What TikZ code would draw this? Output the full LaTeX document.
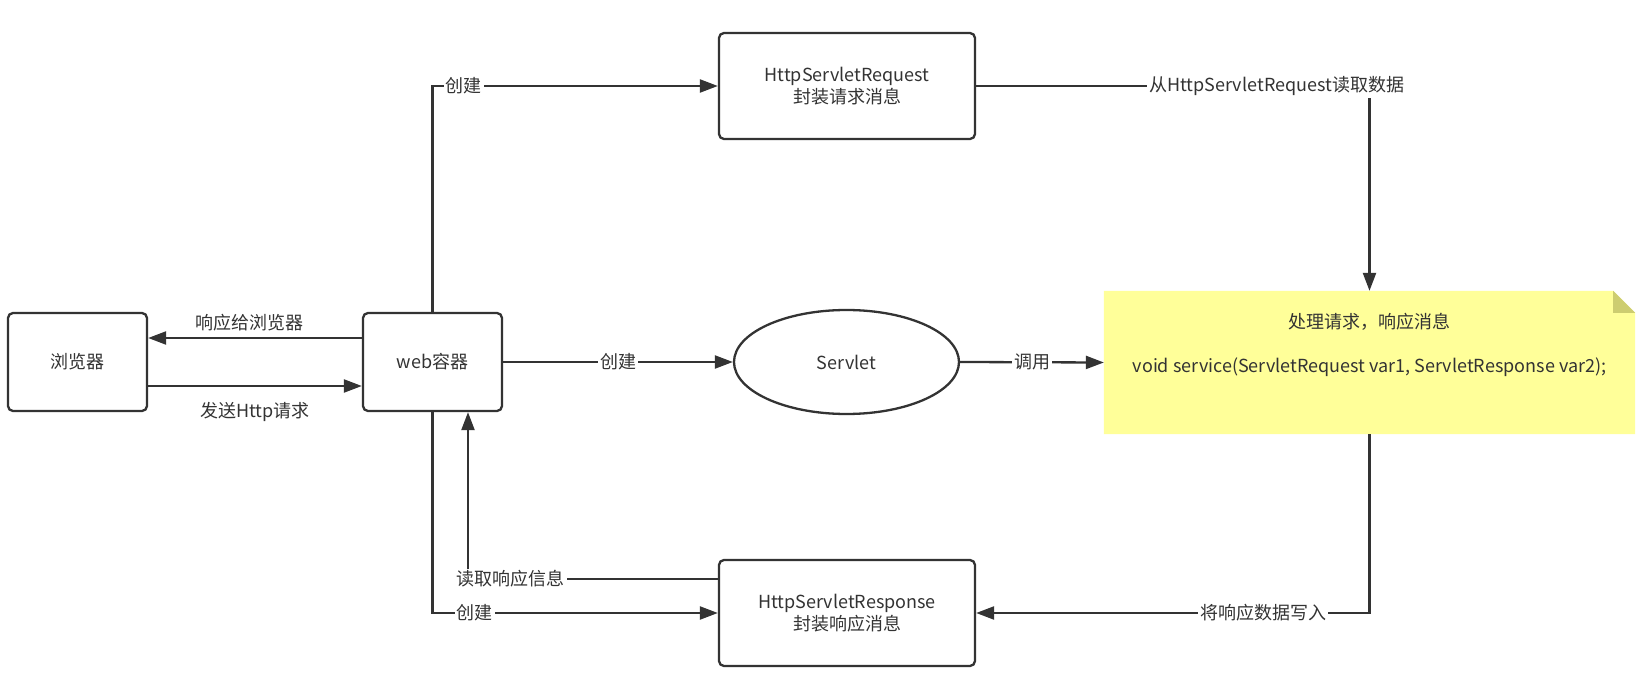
\documentclass[tikz,border=0pt]{standalone}
\usepackage{fontspec}
\setmainfont{Noto Sans CJK SC}
\usepackage{xcolor}
\usetikzlibrary{positioning,arrows.meta,shapes.geometric}
\definecolor{ink}{HTML}{333333}
\definecolor{notefill}{HTML}{FFFF99}
\definecolor{notefold}{HTML}{CDCD70}

\begin{document}
\begin{tikzpicture}[
  x=0.5pt, y=-0.5pt,
  >={Triangle[length=9pt,width=6.5pt]},
  line width=1.15pt, draw=ink,
  every node/.style={font=\fontsize{9pt}{11pt}\selectfont, text=ink},
  block/.style={draw=ink, rounded corners=2.5pt, minimum width=69.5pt, minimum height=49pt, align=center},
  wide/.style={block, minimum width=128pt, minimum height=53pt},
  oval/.style={draw=ink, ellipse, minimum width=112.5pt, minimum height=52pt},
  notebox/.style={minimum width=264.5pt, minimum height=70.5pt, inner sep=0pt},
  lbl/.style={fill=white, inner sep=1pt},
]
\useasboundingbox (0,0) rectangle (1646,679);

\node[block] (browser) at (77.5,362) {浏览器};
\node[block] (web) at (432.5,362) {web容器};
\node[wide] (req) at (847,86) {HttpServletRequest\\封装请求消息};
\node[oval] (servlet) at (846.5,362) {Servlet};
\node[wide] (resp) at (847,613) {HttpServletResponse\\封装响应消息};

% the note with folded corner
\node[notebox] (note) at (1369.5,362.5) {};
\fill[notefill] (note.north west) -- ([xshift=-11pt]note.north east) -- ([yshift=-11pt]note.north east)
  -- (note.south east) -- (note.south west) -- cycle;
\fill[notefold] ([xshift=-11pt]note.north east) -- ([xshift=-11pt,yshift=-11pt]note.north east)
  -- ([yshift=-11pt]note.north east) -- cycle;
\node[align=center, anchor=north] (task) at ([yshift=-7.5pt]note.north)
  {处理请求，响应消息\\[11pt]void service(ServletRequest var1, ServletResponse var2);};

\draw[->] ([yshift=12pt]web.west) -- ([yshift=12pt]browser.east) node[midway, above=-0.5pt, xshift=-3pt] {响应给浏览器};
\draw[->] ([yshift=-12pt]browser.east) -- ([yshift=-12pt]web.west) node[midway, below=4pt] {发送Http请求};
\draw[->] (web.north) |- (req.west) node[lbl, pos=0.555] {创建};
\draw[->] (req.east) -| (note.north) node[lbl, pos=0.382] {从HttpServletRequest读取数据};
\draw[->] (web.east) -- (servlet.west) node[lbl, midway] {创建};
\draw[->] (servlet.east) -- (note.west) node[lbl, midway] {调用};
\draw[->] (note.south) |- (resp.east) node[lbl, pos=0.635] {将响应数据写入};
\draw[->] (web.south) |- (resp.west) node[lbl, pos=0.574] {创建};
\draw[->] ([yshift=17pt]resp.west) -| ([xshift=17.75pt]web.south) node[lbl, pos=0.414] {读取响应信息};
\end{tikzpicture}
\end{document}
